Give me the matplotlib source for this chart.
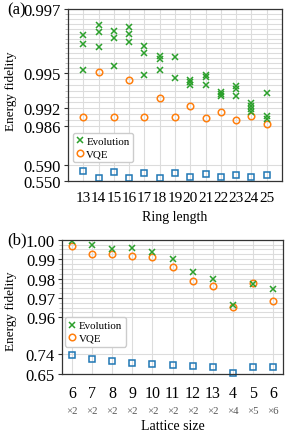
import numpy as np
import matplotlib
matplotlib.use("Agg")
import matplotlib.pyplot as plt
from matplotlib.ticker import FixedLocator, NullFormatter, FixedFormatter
import matplotlib.transforms as mtransforms

plt.rcParams['font.family'] = ['Liberation Serif', 'DejaVu Serif']

# ---------------- data: panel (a) ----------------
ring_lengths = list(range(13, 26))
evo_a_ring = [13, 13, 13, 14, 14, 14, 15, 15, 15, 16, 16, 16, 17, 17, 17,
              18, 18, 18, 19, 19, 20, 20, 20, 21, 21, 21, 22, 22, 22,
              23, 23, 23, 24, 24, 24, 24, 25, 25, 25]
evo_a_fid = [0.99620, 0.99591, 0.99510, 0.99651, 0.99629, 0.99580,
             0.99630, 0.99609, 0.99521, 0.99643, 0.99622, 0.99598,
             0.99583, 0.99562, 0.99483, 0.99554, 0.99544, 0.99510,
             0.99551, 0.99455, 0.99441, 0.99421, 0.99398,
             0.99483, 0.99463, 0.99398, 0.99340, 0.99320, 0.99307,
             0.99387, 0.99364, 0.99307, 0.99245, 0.99217, 0.99177, 0.99087,
             0.99327, 0.98933, 0.98843]
vqe_a = [0.98900, 0.99502, 0.98920, 0.99443, 0.98920, 0.99288, 0.98900,
         0.99217, 0.98877, 0.99087, 0.98810, 0.98933, 0.98667]
init_a = [0.5755, 0.5569, 0.5729, 0.5587, 0.5714, 0.5587, 0.5696,
          0.5602, 0.5671, 0.5602, 0.5653, 0.5602, 0.5663]
yticks_a = [0.550, 0.590, 0.986, 0.992, 0.995, 0.997]
ylabels_a = ['0.550', '0.590', '0.986', '0.992', '0.995', '0.997']

# ---------------- data: panel (b) ----------------
lattice_top = ['6', '7', '8', '9', '10', '11', '12', '13', '4', '5', '6']
lattice_bottom = ['×2', '×2', '×2', '×2', '×2', '×2', '×2', '×2', '×4', '×5', '×6']
evo_b = [0.99923, 0.99719, 0.99514, 0.99565, 0.99345, 0.99003, 0.98322,
         0.97980, 0.96619, 0.97724, 0.97468]
vqe_b = [0.99668, 0.99258, 0.99279, 0.99156, 0.99090, 0.98578, 0.97877,
         0.97622, 0.96517, 0.97760, 0.96854]
init_b = [0.7359, 0.7193, 0.7093, 0.7010, 0.6956, 0.6915, 0.6873,
          0.6819, 0.6529, 0.6803, 0.6803]
yticks_b = [0.65, 0.74, 0.96, 0.97, 0.98, 0.99, 1.00]
ylabels_b = ['0.65', '0.74', '0.96', '0.97', '0.98', '0.99', '1.00']

GREEN = '#2ca02c'
ORANGE = '#ff7f0e'
BLUE = '#1f77b4'
GRID = '#dcdcdc'

# piecewise-linear axis scales
brk_a_v = [0.550, 0.590, 0.986, 0.992, 0.995, 0.997]
brk_a_p = [0.0, 16.3, 55.0, 73.0, 108.3, 172.3]
brk_b_v = [0.65, 0.74, 0.96, 1.00]
brk_b_p = [0.0, 20.0, 56.7, 134.3]


def make_scale(v, p):
    v = np.array(v, dtype=float)
    p = np.array(p, dtype=float)
    s0 = (p[1] - p[0]) / (v[1] - v[0])
    s1 = (p[-1] - p[-2]) / (v[-1] - v[-2])

    def fwd(x):
        x = np.asarray(x, dtype=float)
        out = np.interp(x, v, p)
        out = np.where(x < v[0], p[0] + (x - v[0]) * s0, out)
        out = np.where(x > v[-1], p[-1] + (x - v[-1]) * s1, out)
        return out

    def inv(y):
        y = np.asarray(y, dtype=float)
        out = np.interp(y, p, v)
        out = np.where(y < p[0], v[0] + (y - p[0]) / s0, out)
        out = np.where(y > p[-1], v[-1] + (y - p[-1]) / s1, out)
        return out
    return fwd, inv


W, H = 287, 439
fig = plt.figure(figsize=(W / 100, H / 100), dpi=100)

# ---------- panel (a) ----------
A_L, A_R, A_T, A_B = 68, 282, 10, 182.3
ax1 = fig.add_axes([A_L / W, 1 - A_B / H, (A_R - A_L) / W, (A_B - A_T) / H])
ax1.set_yscale('function', functions=make_scale(brk_a_v, brk_a_p))
ax1.set_ylim(0.550, 0.997)
ax1.set_xlim(12, 26)

minor_a = list(np.linspace(0.995, 0.997, 14)[1:-1]) + \
          [0.9925, 0.993, 0.9935, 0.994, 0.9945] + [0.988, 0.990]
ax1.yaxis.set_major_locator(FixedLocator(yticks_a))
ax1.yaxis.set_major_formatter(FixedFormatter(ylabels_a))
ax1.yaxis.set_minor_locator(FixedLocator(minor_a))
ax1.yaxis.set_minor_formatter(NullFormatter())
ax1.set_xticks(ring_lengths)
ax1.set_xticklabels([str(r) for r in ring_lengths])

ax1.grid(True, which='both', axis='y', color=GRID, lw=0.8)
ax1.grid(True, which='major', axis='x', color=GRID, lw=0.8)
ax1.set_axisbelow(True)

ax1.plot(ring_lengths, init_a, ls='none', marker='s', ms=4.3, mfc='none', mec=BLUE, mew=1.1, clip_on=False)
ax1.plot(ring_lengths, vqe_a, ls='none', marker='o', ms=4.7, mfc='none', mec=ORANGE, mew=1.1, label='VQE')
ax1.plot(evo_a_ring, evo_a_fid, ls='none', marker='x', ms=4.4, mec=GREEN, mew=1.1, label='Evolution')

h, l = ax1.get_legend_handles_labels()
ax1.legend([h[1], h[0]], [l[1], l[0]], loc='upper left', bbox_to_anchor=(0.012, 0.295),
           fontsize=7.8, handlelength=0.6, handletextpad=0.3, borderpad=0.35,
           labelspacing=0.25, borderaxespad=0.2, framealpha=1, edgecolor='#cccccc')
ax1.set_xlabel('Ring length', fontsize=10, labelpad=4)
ax1.set_ylabel('Energy fidelity', fontsize=9.5)
ax1.yaxis.set_label_coords((17 - A_L) / (A_R - A_L), (A_B - 91) / (A_B - A_T))

# ---------- panel (b) ----------
B_L, B_R, B_T, B_B = 62, 283, 240.7, 375
ax2 = fig.add_axes([B_L / W, 1 - B_B / H, (B_R - B_L) / W, (B_B - B_T) / H])
ax2.set_yscale('function', functions=make_scale(brk_b_v, brk_b_p))
ax2.set_ylim(0.65, 1.00)
xb = np.arange(len(lattice_top))
ax2.set_xlim(-0.5, len(lattice_top) - 0.5)
minor_b = [v for v in np.arange(0.96, 1.0001, 0.0025)
           if min(abs(v - t) for t in (0.96, 0.97, 0.98, 0.99, 1.0)) > 1e-6]
ax2.yaxis.set_major_locator(FixedLocator(yticks_b))
ax2.yaxis.set_major_formatter(FixedFormatter(ylabels_b))
ax2.yaxis.set_minor_locator(FixedLocator(minor_b))
ax2.yaxis.set_minor_formatter(NullFormatter())
ax2.set_xticks(xb)
ax2.set_xticklabels(lattice_top)
trans = mtransforms.blended_transform_factory(ax2.transData, ax2.transAxes)
for i, s in enumerate(lattice_bottom):
    ax2.text(xb[i], (B_B - 411.5) / (B_B - B_T), s, transform=trans, ha='center', va='center',
             fontsize=7.8, color='#555555')

ax2.grid(True, which='both', axis='y', color=GRID, lw=0.8)
ax2.grid(True, which='major', axis='x', color=GRID, lw=0.8)
ax2.set_axisbelow(True)

ax2.plot(xb, init_b, ls='none', marker='s', ms=4.3, mfc='none', mec=BLUE, mew=1.1, clip_on=False)
ax2.plot(xb, vqe_b, ls='none', marker='o', ms=4.7, mfc='none', mec=ORANGE, mew=1.1, label='VQE')
ax2.plot(xb, evo_b, ls='none', marker='x', ms=4.4, mec=GREEN, mew=1.1, label='Evolution')
h, l = ax2.get_legend_handles_labels()
ax2.legend([h[1], h[0]], [l[1], l[0]], loc='upper left', bbox_to_anchor=(0.005, 0.44),
           fontsize=7.8, handlelength=0.6, handletextpad=0.3, borderpad=0.35,
           labelspacing=0.25, borderaxespad=0.2, framealpha=1, edgecolor='#cccccc')
ax2.set_xlabel('Lattice size', fontsize=10)
ax2.set_ylabel('Energy fidelity', fontsize=9.5)
ax2.yaxis.set_label_coords((17 - B_L) / (B_R - B_L), (B_B - 311) / (B_B - B_T))
ax2.xaxis.set_label_coords(0.5, (B_B - 420) / (B_B - B_T))

for ax in (ax1, ax2):
    for sp in ax.spines.values():
        sp.set_color('#333333')
        sp.set_linewidth(0.9)
    ax.tick_params(axis='y', which='major', labelsize=12, length=3, width=0.8, color='#333333', pad=2)
    ax.tick_params(axis='y', which='minor', length=2.5, width=0.6, color='#bbbbbb')
ax1.tick_params(axis='x', which='major', labelsize=11, length=0, pad=7)
ax2.tick_params(axis='x', which='major', labelsize=11.5, length=0, pad=8)

fig.text(7 / W, 1 - 10 / H, '(a)', fontsize=12, ha='left', va='center')
fig.text(7 / W, 1 - 240.5 / H, '(b)', fontsize=12, ha='left', va='center')

fig.savefig('out.png', dpi=100)
